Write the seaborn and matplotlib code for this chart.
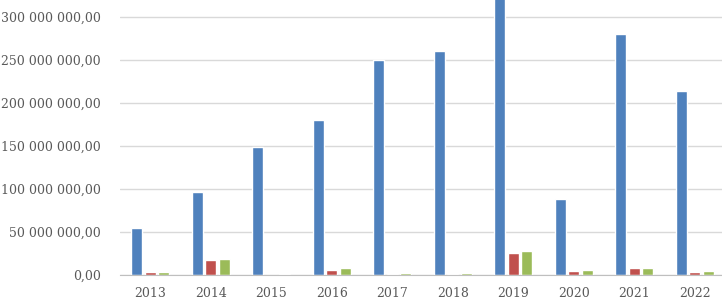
import matplotlib
matplotlib.use("Agg")
import matplotlib.pyplot as plt
from matplotlib.ticker import FuncFormatter, MultipleLocator
import seaborn as sns
import pandas as pd

# values
years = ['2013', '2014', '2015', '2016', '2017', '2018', '2019', '2020', '2021', '2022']
series_a = [55e6, 97e6, 149e6, 180e6, 250e6, 261e6, 330e6, 88e6, 281e6, 214e6]
series_b = [3.5e6, 17.3e6, 0.3e6, 5.3e6, 1.3e6, 1.3e6, 26e6, 4.8e6, 7.8e6, 3.9e6]
series_c = [3.5e6, 18.5e6, 1.3e6, 7.8e6, 1.8e6, 1.8e6, 28.5e6, 5.4e6, 8.6e6, 5.0e6]
series_names = ['A', 'B', 'C']
colors = ['#4F81BD', '#C0504D', '#9BBB59']

df = pd.DataFrame({
    'year': years * 3,
    'value': series_a + series_b + series_c,
    'series': [s for s in series_names for _ in years],
})

sns.set_style("white")
plt.rcParams['font.family'] = ['DejaVu Serif']

fig = plt.figure(figsize=(7.22, 3.0), dpi=100)
ax = fig.add_axes([120 / 722, 25 / 300, 605 / 722, 275 / 300])

sns.barplot(data=df, x='year', y='value', hue='series', palette=colors,
            width=0.66, gap=0.17, saturation=1, legend=False, ax=ax)

ax.set_xlim(-0.5, 9.5)
ax.set_ylim(0, 320e6)
ax.yaxis.set_major_locator(MultipleLocator(50e6))
ax.yaxis.set_major_formatter(
    FuncFormatter(lambda v, p: f"{v:,.2f}".replace(',', ' ').replace('.', ',')))
ax.grid(axis='y', color='#D9D9D9', linewidth=1)
ax.set_axisbelow(True)
ax.set_xlabel('')
ax.set_ylabel('')

for s in ['top', 'right', 'left']:
    ax.spines[s].set_visible(False)
ax.spines['bottom'].set_color('#BFBFBF')
ax.tick_params(axis='y', length=0, pad=14, labelsize=9, colors='#595959')
ax.tick_params(axis='x', length=0, pad=8.5, labelsize=9, colors='#595959')

fig.savefig('out.png', dpi=100)
